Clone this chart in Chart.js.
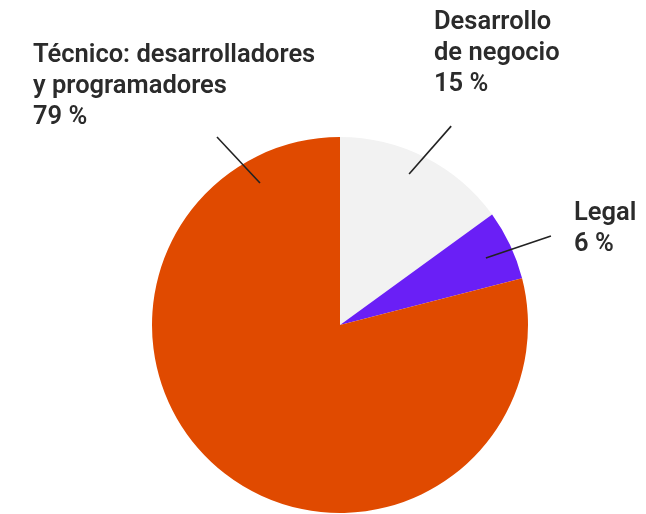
<!DOCTYPE html>
<html>
<head>
<meta charset="utf-8">
<script src="https://cdn.jsdelivr.net/npm/chart.js@4/dist/chart.umd.min.js"></script>
<style>
html,body{margin:0;padding:0;background:#fff;}
#wrap{width:646px;height:514px;position:relative;}
</style>
</head>
<body>
<div id="wrap"><canvas id="c" width="646" height="514"></canvas></div>
<script>
// Data
const categories = ["Desarrollo de negocio", "Legal", "Técnico: desarrolladores y programadores"];
const values = [15, 6, 79];
const labelLines = [["Desarrollo", "de negocio", "15 %"], ["Legal", "6 %"], ["Técnico: desarrolladores", "y programadores", "79 %"]];
const colors = ["#f2f2f2", "#6a1ff6", "#e04a00"];

// Label placement (layout only): text origin and leader line in polar terms (deg from top, fraction of radius)
const labelLayout = [
  {x: 434, y: 29, a1: 24.6, f1: 0.883, a2: 29.2, f2: 1.212},
  {x: 574, y: 220, a1: 65.3, f1: 0.854, a2: 67.1, f2: 1.218},
  {x: 33, y: 62, a1: 330.6, f1: 0.867, a2: 326.8, f2: 1.195}
];

const labelPlugin = {
  id: 'pieLabels',
  afterDraw(chart) {
    const ctx = chart.ctx;
    const meta = chart.getDatasetMeta(0);
    const arc = meta.data[0];
    const cx = arc.x, cy = arc.y, r = arc.outerRadius;
    ctx.save();
    labelLayout.forEach((L, i) => {
      const p = (a, f) => {
        const t = a * Math.PI / 180;
        return [cx + Math.sin(t) * r * f, cy - Math.cos(t) * r * f];
      };
      const [x1, y1] = p(L.a1, L.f1);
      const [x2, y2] = p(L.a2, L.f2);
      ctx.strokeStyle = '#222';
      ctx.lineWidth = 1.6;
      ctx.beginPath();
      ctx.moveTo(x1, y1);
      ctx.lineTo(x2, y2);
      ctx.stroke();
      ctx.fillStyle = '#2b2b2b';
      ctx.font = '600 25.5px Roboto';
      ctx.textBaseline = 'alphabetic';
      ctx.textAlign = 'left';
      labelLines[i].forEach((s, k) => {
        ctx.fillText(s, L.x, L.y + k * 31);
      });
    });
    ctx.restore();
  }
};

new Chart(document.getElementById('c'), {
  type: 'pie',
  data: {
    labels: categories,
    datasets: [{
      data: values,
      backgroundColor: colors,
      borderWidth: 0
    }]
  },
  options: {
    responsive: false,
    animation: false,
    layout: {padding: {top: 137, bottom: 1, left: 152, right: 118}},
    plugins: {legend: {display: false}, tooltip: {enabled: false}}
  },
  plugins: [labelPlugin]
});
</script>
</body>
</html>
